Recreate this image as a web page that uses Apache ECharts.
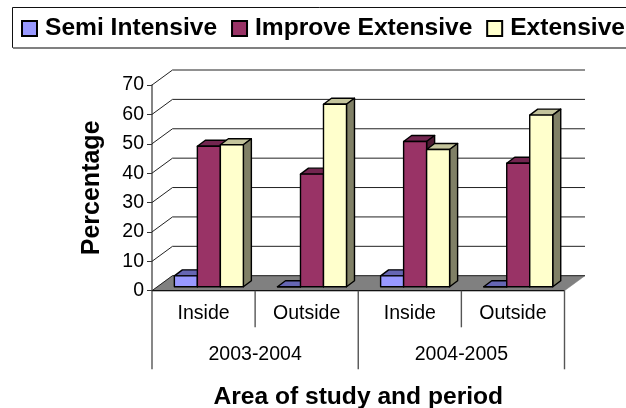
<!DOCTYPE html>
<html><head><meta charset="utf-8">
<style>html,body{margin:0;padding:0;background:#fff}#c{width:626px;height:408px}</style>
<script src="https://cdn.jsdelivr.net/npm/echarts@6/dist/echarts.min.js"></script>
</head><body><div id="c"></div>
<script>
const categories = ['Inside','Outside','Inside','Outside'];
const periods = ['2003-2004','2004-2005'];
const semiIntensive = [3.7,0,3.7,0];
const improveExtensive = [47.8,38.3,49.4,42];
const extensive = [48.3,62.1,46.7,58.4];
const yTicks = [0,10,20,30,40,50,60,70];

const FONT='"Liberation Sans", Arial, sans-serif';
const WALL={dx:20.5,dy:-15}, BAR={dx:8,dy:-6}, BASE={dx:5.3,dy:-4};
const BW=23;
const chart=echarts.init(document.getElementById('c'),null,{renderer:'canvas'});

function bar(front,side,top,offset){
  return function(params,api){
    const cat=api.value(0), v=api.value(1);
    const p0=api.coord([cat,0]), p1=api.coord([cat,v]);
    const x=p0[0]+BASE.dx+(offset-0.5)*BW-BW, xr=x+BW;
    const yb=p0[1]+BASE.dy, yt=p1[1]+BASE.dy;
    const ln={stroke:'#000',lineWidth:1.4,lineJoin:'round'};
    const poly=(pts,fill)=>({type:'polygon',shape:{points:pts},style:Object.assign({fill},ln)});
    return {type:'group',children:[
      poly([[x,yt],[x+BAR.dx,yt+BAR.dy],[xr+BAR.dx,yt+BAR.dy],[xr,yt]],top),
      poly([[xr,yt],[xr+BAR.dx,yt+BAR.dy],[xr+BAR.dx,yb+BAR.dy],[xr,yb]],side),
      poly([[x,yt],[xr,yt],[xr,yb],[x,yb]],front)
    ]};
  };
}
function barSeries(name,data,offset,front,side,top){
  return {type:'custom',name,coordinateSystem:'cartesian2d',z:5,
    itemStyle:{color:front,borderColor:'#000',borderWidth:1.4},
    encode:{x:0,y:1},
    data:data.map((v,i)=>[i,v]),renderItem:bar(front,side,top,offset),silent:true};
}
function ends(api,v){
  const c=api.coord([0,v]), band=api.size([1,0])[0];
  const a=[c[0]-band/2,c[1]], b=[c[0]+band*3.5,c[1]];
  return [a,b];
}
const wallSeries={type:'custom',coordinateSystem:'cartesian2d',z:1,silent:true,
  data:yTicks.map(v=>[0,v]),encode:{x:0,y:1},
  renderItem(params,api){
    const v=api.value(1);
    const [a,b]=ends(api,v);
    const a2=[a[0]+WALL.dx,a[1]+WALL.dy], b2=[b[0]+WALL.dx,b[1]+WALL.dy];
    if(v===0){
      return {type:'group',children:[
        {type:'polygon',shape:{points:[a,a2,b2,b]},style:{fill:'#808080',stroke:'#808080',lineWidth:0.5}},
        {type:'polyline',shape:{points:[a,a2,b2]},style:{stroke:'#222',lineWidth:1,fill:null}},
        {type:'line',shape:{x1:a[0],y1:a[1],x2:b[0],y2:b[1]},style:{stroke:'#111',lineWidth:1.3}}
      ]};
    }
    return {type:'polyline',shape:{points:[a,a2,b2]},style:{stroke:'#222',lineWidth:1,fill:null}};
  }};
const sepSeries={type:'custom',coordinateSystem:'cartesian2d',z:1,silent:true,
  data:[0,1,2,3,4].map(i=>[0,i]),encode:{x:0},
  renderItem(params,api){
    const i=params.dataIndex;
    const c=api.coord([0,0]), band=api.size([1,0])[0];
    const x=c[0]+band*(i-0.5);
    const len=i%2===0?78.6:36.6;
    return {type:'line',shape:{x1:x,y1:c[1],x2:x,y2:c[1]+len},style:{stroke:'#555',lineWidth:1.4}};
  }};
const periodSeries={type:'custom',coordinateSystem:'cartesian2d',z:1,silent:true,
  data:periods.map(s=>[0,s]),encode:{x:0},
  renderItem(params,api){
    const i=params.dataIndex;
    const c=api.coord([0,0]), band=api.size([1,0])[0];
    return {type:'text',style:{text:periods[i],x:c[0]+band*(2*i+0.5),y:c[1]+63.6,align:'center',verticalAlign:'middle',
      font:'19.5px '+FONT,fill:'#000'}};
  }};

chart.setOption({
  animation:false,backgroundColor:'#fff',
  graphic:[
    {type:'rect',z:0,shape:{x:12.5,y:7.5,width:760,height:40},style:{fill:'#fff',stroke:'#111',lineWidth:1}},
    {type:'line',z:0,shape:{x1:13,y1:48,x2:626,y2:48},style:{stroke:'#808080',lineWidth:2}}
  ],
  legend:{left:21,top:16,width:800,padding:0,itemGap:13.8,itemWidth:15,itemHeight:15,
    icon:'rect',textStyle:{fontFamily:FONT,fontWeight:'bold',fontSize:24.6,color:'#000',padding:[0,0,0,3]},
    data:['Semi Intensive','Improve Extensive','Extensive']},
  grid:{left:152,right:61.5,top:85,bottom:117.3,containLabel:false,outerBoundsMode:'none'},
  xAxis:{type:'category',data:categories,boundaryGap:true,position:'bottom',
    axisLine:{show:false},axisTick:{show:false},splitLine:{show:false},
    axisLabel:{fontFamily:FONT,fontSize:19.5,color:'#000',margin:13},
    name:'Area of study and period',nameLocation:'middle',nameGap:94,
    nameTextStyle:{fontFamily:FONT,fontWeight:'bold',fontSize:24.6,color:'#000'}},
  yAxis:{type:'value',min:0,max:70,interval:10,
    axisLine:{show:true,lineStyle:{color:'#666',width:1.6}},
    axisTick:{show:true,length:5,lineStyle:{color:'#333'}},splitLine:{show:false},
    axisLabel:{fontFamily:FONT,fontSize:19.5,color:'#000',margin:8},
    name:'Percentage',nameLocation:'middle',nameGap:47,
    nameTextStyle:{fontFamily:FONT,fontWeight:'bold',fontSize:25,color:'#000'}},
  series:[wallSeries,sepSeries,periodSeries,
    barSeries('Semi Intensive',semiIntensive,0,'#9999ff','#4d4d80','#6666b3'),
    barSeries('Improve Extensive',improveExtensive,1,'#993366','#4d1a33','#732650'),
    barSeries('Extensive',extensive,2,'#ffffcc','#808066','#c4c49c')]
});
</script></body></html>
